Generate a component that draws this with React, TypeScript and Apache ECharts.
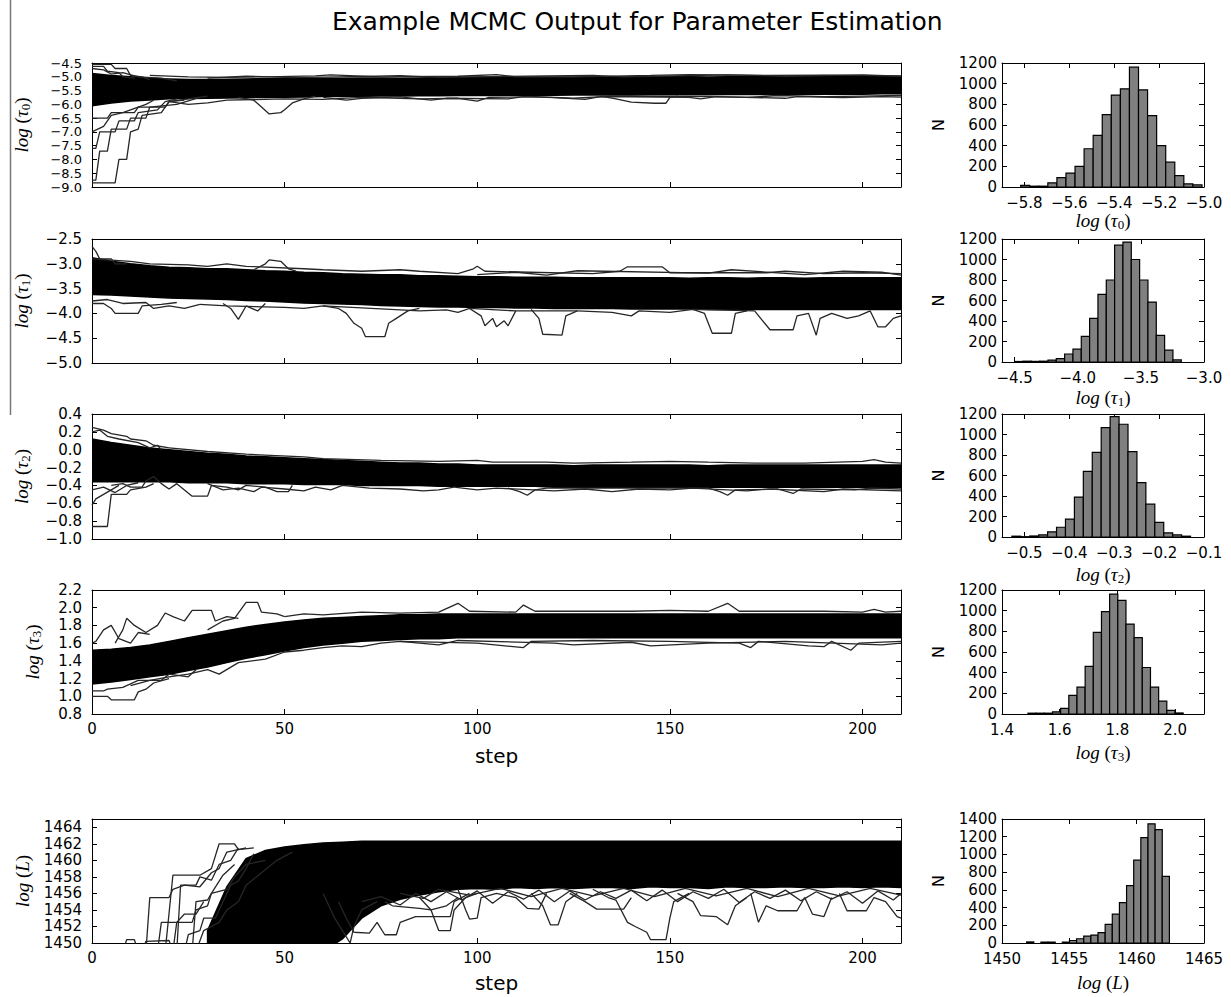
import React, { useEffect, useRef } from "react";
import * as echarts from "echarts";

type Pair = [number, number];

const TITLE = "Example MCMC Output for Parameter Estimation";
const STEP_MIN = 0;
const STEP_MAX = 210;
const STEP_TICKS = [0, 50, 100, 150, 200];
const BAND_STEPS = [0, 5, 10, 15, 20, 25, 30, 35, 40, 45, 50, 55, 60, 65, 70, 75, 80, 85, 90, 95, 100, 105, 110, 115, 120, 125, 130, 135, 140, 145, 150, 155, 160, 165, 170, 175, 180, 185, 190, 195, 200, 205, 210];

// ---------- tick labels ----------
const TAU0_TICKS = [-9.0, -8.5, -8.0, -7.5, -7.0, -6.5, -6.0, -5.5, -5.0, -4.5];
const TAU1_TICKS = [-5.0, -4.5, -4.0, -3.5, -3.0, -2.5];
const TAU2_TICKS = [-1.0, -0.8, -0.6, -0.4, -0.2, 0.0, 0.2, 0.4];
const TAU3_TICKS = [0.8, 1.0, 1.2, 1.4, 1.6, 1.8, 2.0, 2.2];
const LOGL_TICKS = [1450, 1452, 1454, 1456, 1458, 1460, 1462, 1464];
const N_TICKS = [0, 200, 400, 600, 800, 1000, 1200];
const N_TICKS_L = [0, 200, 400, 600, 800, 1000, 1200, 1400];
const H0_TICKS = [-5.8, -5.6, -5.4, -5.2, -5.0];
const H1_TICKS = [-4.5, -4.0, -3.5, -3.0];
const H2_TICKS = [-0.5, -0.4, -0.3, -0.2, -0.1];
const H3_TICKS = [1.4, 1.6, 1.8, 2.0];
const HL_TICKS = [1450, 1455, 1460, 1465];

// ---------- trace bands (dense walker core) ----------
const tau0Upper = [-4.88, -4.95, -5.0, -5.05, -5.08, -5.1, -5.1, -5.09, -5.08, -5.07, -5.06, -5.06, -5.05, -5.05, -5.04, -5.04, -5.05, -5.04, -5.03, -5.03, -5.02, -5.02, -5.03, -5.02, -5.02, -5.02, -5.01, -5.02, -5.01, -5.01, -5.0, -5.0, -5.01, -5.0, -5.0, -5.0, -5.0, -4.99, -5.0, -5.0, -4.99, -5.0, -5.0];
const tau0Lower = [-6.05, -5.95, -5.88, -5.84, -5.8, -5.79, -5.78, -5.77, -5.76, -5.75, -5.74, -5.73, -5.72, -5.72, -5.71, -5.7, -5.7, -5.69, -5.69, -5.68, -5.68, -5.68, -5.67, -5.67, -5.67, -5.66, -5.66, -5.66, -5.66, -5.65, -5.65, -5.65, -5.65, -5.64, -5.64, -5.64, -5.64, -5.63, -5.63, -5.63, -5.63, -5.62, -5.62];
const tau1Upper = [-2.88, -2.95, -3.0, -3.04, -3.07, -3.08, -3.1, -3.1, -3.12, -3.14, -3.15, -3.17, -3.18, -3.2, -3.21, -3.22, -3.22, -3.24, -3.24, -3.25, -3.26, -3.26, -3.27, -3.27, -3.27, -3.28, -3.28, -3.28, -3.28, -3.28, -3.28, -3.29, -3.28, -3.28, -3.29, -3.28, -3.28, -3.29, -3.28, -3.28, -3.28, -3.28, -3.28];
const tau1Lower = [-3.62, -3.63, -3.65, -3.67, -3.69, -3.7, -3.71, -3.72, -3.74, -3.75, -3.77, -3.79, -3.8, -3.81, -3.82, -3.84, -3.85, -3.86, -3.87, -3.87, -3.88, -3.88, -3.89, -3.89, -3.9, -3.9, -3.9, -3.9, -3.91, -3.91, -3.91, -3.91, -3.92, -3.92, -3.92, -3.92, -3.92, -3.92, -3.92, -3.92, -3.92, -3.92, -3.92];
const tau2Upper = [0.12, 0.08, 0.05, 0.02, 0.0, -0.02, -0.04, -0.05, -0.07, -0.08, -0.09, -0.1, -0.11, -0.12, -0.13, -0.14, -0.15, -0.15, -0.16, -0.16, -0.17, -0.17, -0.17, -0.17, -0.17, -0.18, -0.17, -0.17, -0.17, -0.17, -0.17, -0.17, -0.18, -0.17, -0.17, -0.17, -0.17, -0.17, -0.17, -0.17, -0.17, -0.17, -0.17];
const tau2Lower = [-0.36, -0.36, -0.36, -0.36, -0.36, -0.37, -0.37, -0.37, -0.38, -0.38, -0.38, -0.39, -0.39, -0.39, -0.4, -0.4, -0.4, -0.4, -0.41, -0.41, -0.41, -0.41, -0.41, -0.41, -0.42, -0.42, -0.42, -0.42, -0.42, -0.42, -0.42, -0.42, -0.42, -0.42, -0.42, -0.42, -0.42, -0.42, -0.42, -0.42, -0.42, -0.42, -0.42];
const tau3Upper = [1.52, 1.53, 1.55, 1.58, 1.62, 1.66, 1.7, 1.74, 1.78, 1.81, 1.84, 1.86, 1.88, 1.89, 1.9, 1.91, 1.92, 1.92, 1.93, 1.93, 1.93, 1.93, 1.93, 1.93, 1.93, 1.93, 1.93, 1.93, 1.93, 1.93, 1.93, 1.93, 1.93, 1.93, 1.93, 1.93, 1.93, 1.93, 1.93, 1.93, 1.93, 1.93, 1.93];
const tau3Lower = [1.14, 1.16, 1.19, 1.22, 1.25, 1.29, 1.33, 1.38, 1.43, 1.47, 1.51, 1.55, 1.58, 1.6, 1.62, 1.63, 1.64, 1.65, 1.65, 1.66, 1.66, 1.66, 1.66, 1.66, 1.66, 1.66, 1.66, 1.66, 1.66, 1.66, 1.66, 1.66, 1.66, 1.66, 1.66, 1.66, 1.66, 1.66, 1.66, 1.66, 1.66, 1.66, 1.66];
const LOGL_BAND_STEPS = [30, 35, 40, 45, 50, 55, 60, 65, 70, 75, 80, 85, 90, 95, 100, 105, 110, 115, 120, 125, 130, 135, 140, 145, 150, 155, 160, 165, 170, 175, 180, 185, 190, 195, 200, 205, 210];
const logLUpper = [1451.5, 1456.8, 1460.2, 1461.2, 1461.6, 1461.9, 1462.1, 1462.2, 1462.3, 1462.3, 1462.3, 1462.3, 1462.3, 1462.3, 1462.3, 1462.3, 1462.3, 1462.3, 1462.3, 1462.3, 1462.3, 1462.3, 1462.3, 1462.3, 1462.3, 1462.3, 1462.3, 1462.3, 1462.3, 1462.3, 1462.3, 1462.3, 1462.3, 1462.3, 1462.3, 1462.3, 1462.3];
const logLLower = [1449, 1449, 1449, 1449, 1449, 1449, 1449, 1450.5, 1453.0, 1454.5, 1455.3, 1455.8, 1456.2, 1456.5, 1456.6, 1456.5, 1456.7, 1456.6, 1456.7, 1456.6, 1456.7, 1456.7, 1456.6, 1456.8, 1456.7, 1456.7, 1456.6, 1456.8, 1456.7, 1456.7, 1456.8, 1456.7, 1456.7, 1456.8, 1456.7, 1456.8, 1456.7];

// ---------- individual walkers ----------
const tau0Walkers: Pair[][] = [
  [[0, -8.85], [6, -8.85], [7, -8.0], [9, -8.0], [10, -7.0], [12, -6.9], [13, -6.4], [18, -6.3], [20, -5.9], [25, -5.8], [30, -5.7]],
  [[0, -8.75], [1, -8.75], [2, -7.7], [4, -7.7], [5, -6.9], [9, -6.9], [10, -6.5], [14, -6.5], [15, -6.1], [22, -6.0], [28, -5.75]],
  [[0, -7.6], [1, -7.6], [2, -7.0], [6, -7.0], [7, -6.6], [11, -6.6], [12, -6.3], [17, -6.2], [19, -5.9], [22, -5.8]],
  [[0, -7.0], [3, -6.8], [5, -6.4], [8, -6.3], [10, -6.2], [14, -6.0], [16, -5.85]],
  [[0, -6.5], [4, -6.5], [5, -6.3], [11, -6.3], [12, -6.1], [19, -6.1], [20, -5.9], [24, -5.85]],
  [[0, -4.55], [5, -4.55], [6, -4.7], [9, -4.7], [10, -4.95], [13, -5.0], [15, -5.1]],
  [[0, -4.62], [3, -4.62], [4, -4.8], [7, -4.85], [8, -5.0], [11, -5.05]],
  [[0, -4.7], [3, -4.75], [5, -4.9], [8, -4.85], [12, -5.0], [18, -5.05], [22, -5.15]],
  [[38, -5.75], [42, -5.85], [44, -6.1], [46, -6.35], [49, -6.3], [50, -6.2], [52, -5.95], [55, -5.8], [58, -5.7]],
  [[132, -5.7], [136, -5.8], [140, -5.92], [146, -5.96], [149, -5.96], [150, -5.75], [152, -5.7]],
  [[20, -5.9], [25, -6.0], [30, -5.95], [35, -5.85], [50, -5.8], [60, -5.82], [70, -5.75], [85, -5.8], [95, -5.78], [100, -5.88], [103, -5.75], [115, -5.72], [125, -5.78], [135, -5.7], [160, -5.72], [170, -5.75], [178, -5.68], [190, -5.72], [200, -5.7], [210, -5.68]],
  [[60, -5.75], [66, -5.85], [70, -5.78], [80, -5.73], [88, -5.85], [92, -5.78], [108, -5.8], [112, -5.72], [120, -5.76], [128, -5.82], [132, -5.72], [155, -5.75], [158, -5.8], [162, -5.72], [180, -5.78], [183, -5.72], [195, -5.76], [205, -5.72], [210, -5.74]],
  [[15, -4.95], [25, -5.0], [35, -5.02], [45, -5.0], [58, -4.97], [62, -4.93], [75, -5.0], [95, -4.98], [105, -4.92], [110, -5.0], [125, -5.0], [145, -4.95], [155, -4.92], [175, -4.95], [190, -4.94], [210, -4.97]],
  [[30, -5.05], [40, -4.98], [52, -5.03], [64, -5.0], [80, -4.96], [90, -5.02], [118, -4.97], [130, -4.95], [138, -5.0], [165, -4.93], [180, -4.98], [200, -4.93], [210, -4.98]],
];
const tau1Walkers: Pair[][] = [
  [[0, -2.65], [1, -2.75], [2, -2.9], [5, -2.9], [6, -3.0], [9, -3.0]],
  [[0, -3.8], [3, -3.8], [5, -3.9], [6, -4.0], [12, -4.0], [13, -3.85], [18, -3.82], [22, -3.78]],
  [[0, -3.75], [4, -3.72], [8, -3.8], [14, -3.78], [16, -3.9], [20, -3.85], [24, -3.9], [28, -3.82]],
  [[42, -3.12], [45, -3.0], [46, -2.92], [49, -2.95], [51, -3.1], [53, -3.15]],
  [[34, -3.8], [36, -3.9], [38, -4.12], [40, -3.85], [43, -3.95], [45, -3.8]],
  [[60, -3.85], [64, -3.9], [66, -4.0], [68, -4.2], [70, -4.3], [71, -4.47], [76, -4.47], [77, -4.2], [79, -4.1], [82, -3.95], [85, -3.9]],
  [[98, -3.9], [101, -4.05], [102, -4.25], [104, -4.1], [105, -4.27], [107, -4.15], [108, -4.25], [110, -3.95]],
  [[114, -3.92], [116, -4.1], [117, -4.42], [122, -4.44], [123, -4.05], [126, -3.95]],
  [[156, -3.92], [159, -4.0], [161, -4.4], [166, -4.4], [167, -4.0], [170, -3.95]],
  [[172, -3.95], [176, -4.33], [182, -4.33], [183, -4.05], [186, -4.0], [188, -4.44], [189, -4.1], [192, -4.0], [196, -4.1], [199, -4.05], [202, -3.95], [204, -4.27], [206, -4.27], [208, -4.1], [210, -4.05]],
  [[95, -3.2], [99, -3.1], [100, -3.05], [102, -3.15], [130, -3.2], [137, -3.15], [139, -3.06], [148, -3.06], [150, -3.18], [175, -3.18], [180, -3.15], [190, -3.2], [200, -3.18], [210, -3.2]],
  [[0, -2.9], [10, -2.95], [15, -3.0], [25, -3.02], [30, -3.05], [35, -3.0], [40, -3.05], [55, -3.1], [60, -3.12], [70, -3.15], [80, -3.12], [85, -3.15], [95, -3.2]],
  [[28, -3.82], [35, -3.85], [50, -3.88], [55, -3.9], [60, -3.85], [85, -3.95], [92, -3.93], [95, -3.98], [98, -3.9], [110, -3.95], [126, -3.95], [135, -3.98], [140, -4.05], [142, -3.95], [150, -3.98], [156, -3.92], [172, -3.95]],
  [[100, -3.22], [110, -3.17], [118, -3.23], [126, -3.14], [160, -3.19], [166, -3.12], [185, -3.22], [195, -3.15], [205, -3.17], [210, -3.23]],
];
const tau2Walkers: Pair[][] = [
  [[0, -0.86], [4, -0.86], [5, -0.5], [9, -0.5], [10, -0.45], [14, -0.42], [16, -0.38]],
  [[0, -0.62], [1, -0.55], [3, -0.5], [5, -0.45], [7, -0.4]],
  [[0, -0.45], [3, -0.42], [6, -0.48], [9, -0.4], [12, -0.37]],
  [[0, 0.25], [3, 0.22], [5, 0.18], [9, 0.15], [10, 0.12], [14, 0.1], [16, 0.05], [20, 0.02]],
  [[0, 0.2], [2, 0.22], [4, 0.15], [7, 0.12], [12, 0.08], [15, 0.02], [17, 0.05], [18, 0.0]],
  [[5, -0.4], [8, -0.38], [10, -0.42], [13, -0.42], [14, -0.35], [16, -0.3], [18, -0.38], [20, -0.44], [22, -0.38], [26, -0.52], [30, -0.52], [31, -0.4], [35, -0.42], [38, -0.45], [40, -0.4], [45, -0.42], [48, -0.47], [51, -0.47], [52, -0.4]],
  [[30, -0.38], [34, -0.45], [38, -0.43], [42, -0.47], [44, -0.42], [50, -0.44], [55, -0.46], [58, -0.42], [62, -0.45], [65, -0.4], [72, -0.43], [80, -0.44], [86, -0.46], [90, -0.45], [94, -0.42]],
  [[94, -0.42], [100, -0.45], [105, -0.43], [120, -0.46], [128, -0.44], [135, -0.47], [142, -0.44], [150, -0.45], [156, -0.43], [170, -0.46], [176, -0.44], [190, -0.47], [195, -0.44], [210, -0.46]],
  [[108, -0.43], [111, -0.47], [113, -0.51], [115, -0.45], [118, -0.43], [160, -0.43], [163, -0.47], [165, -0.51], [167, -0.45], [178, -0.44], [182, -0.49], [184, -0.44], [198, -0.45], [202, -0.43], [210, -0.44]],
  [[20, 0.02], [30, -0.02], [40, -0.05], [55, -0.08], [60, -0.1], [75, -0.12], [90, -0.13], [100, -0.12], [104, -0.14], [118, -0.14], [125, -0.15], [140, -0.14], [150, -0.13], [160, -0.14], [172, -0.15], [185, -0.15], [200, -0.13], [203, -0.11], [206, -0.14], [210, -0.15]],
];
const tau3Walkers: Pair[][] = [
  [[0, 1.0], [4, 1.0], [5, 0.96], [11, 0.96], [12, 1.05], [14, 1.08], [16, 1.15], [20, 1.2]],
  [[0, 1.06], [3, 1.06], [4, 1.08], [8, 1.1], [12, 1.18], [18, 1.18], [20, 1.25], [25, 1.22], [27, 1.3]],
  [[0, 1.6], [1, 1.62], [3, 1.75], [5, 1.8], [7, 1.65], [10, 1.6], [12, 1.72], [15, 1.7]],
  [[6, 1.6], [8, 1.75], [9, 1.88], [11, 1.8], [14, 1.72], [17, 1.8], [19, 1.94], [21, 1.9], [24, 1.85], [26, 1.97], [31, 1.97], [32, 1.85], [35, 1.9], [38, 1.88]],
  [[30, 1.75], [34, 1.85], [37, 1.88], [40, 2.06], [43, 2.06], [44, 1.95], [48, 1.93], [50, 1.9]],
  [[10, 1.12], [15, 1.18], [20, 1.22], [25, 1.25], [30, 1.3], [33, 1.25], [38, 1.38], [45, 1.42], [50, 1.5], [55, 1.52], [60, 1.55], [65, 1.57], [70, 1.56], [75, 1.6], [80, 1.62], [100, 1.6], [112, 1.55], [114, 1.62], [130, 1.63], [150, 1.62], [168, 1.6], [171, 1.55], [173, 1.62], [186, 1.57], [190, 1.56], [192, 1.62], [197, 1.52], [199, 1.6], [210, 1.62]],
  [[80, 1.62], [90, 1.58], [95, 1.63], [120, 1.6], [125, 1.58], [140, 1.61], [145, 1.57], [160, 1.6], [180, 1.62], [205, 1.58], [210, 1.6]],
  [[50, 1.9], [55, 1.93], [60, 1.92], [70, 1.95], [80, 1.94], [90, 1.95], [95, 2.05], [98, 1.96], [110, 1.95], [112, 2.03], [115, 1.96], [140, 1.96], [150, 1.97], [160, 1.96], [165, 2.05], [168, 1.96], [190, 1.96], [200, 1.95], [203, 1.98], [206, 1.95], [210, 1.96]],
];
const logLWalkers: Pair[][] = [
  [[8, 1449], [9, 1450.4], [11, 1450.4], [12, 1449]],
  [[13, 1449], [14, 1450.2], [20, 1450.3], [21, 1449]],
  [[14, 1449], [15, 1455.5], [20, 1455.5], [21, 1456.5], [24, 1457], [28, 1456.8], [31, 1458.5], [33, 1459], [35, 1461], [40, 1461.5]],
  [[19, 1449], [21, 1458.2], [28, 1458.2], [31, 1459], [33, 1462], [37, 1462], [38, 1461.3], [42, 1461.5]],
  [[21, 1449], [22, 1452.5], [26, 1452.5], [27, 1454], [30, 1454.5], [31, 1456], [35, 1456.5], [37, 1458], [40, 1459.5], [45, 1460]],
  [[24, 1449], [25, 1451], [28, 1451.5], [29, 1453], [32, 1453], [34, 1455], [36, 1457], [38, 1457.5], [40, 1459], [42, 1460.8]],
  [[27, 1449], [29, 1451.5], [31, 1452], [33, 1452.5], [35, 1454], [38, 1455], [40, 1457], [44, 1458.5], [48, 1460], [52, 1461]],
  [[22, 1449], [23, 1457], [27, 1457], [28, 1458], [31, 1457.6], [33, 1459.5], [36, 1460], [38, 1461.5]],
  [[26, 1449], [27, 1455], [30, 1455.2], [31, 1456], [34, 1458.2], [37, 1459.5]],
  [[17, 1449], [18, 1452.5], [22, 1452.5], [24, 1453.5], [27, 1453.5], [29, 1455]],
  [[60, 1456], [63, 1453], [65, 1451.5], [67, 1450], [68, 1452], [70, 1454], [74, 1455]],
  [[64, 1455], [66, 1453], [68, 1451.3], [72, 1451.2], [74, 1452.5], [76, 1451], [79, 1451], [80, 1452.5], [84, 1453.2], [93, 1453.2], [94, 1455], [98, 1456]],
  [[76, 1455], [78, 1454.5], [85, 1454.2], [88, 1454], [92, 1454.5], [95, 1455.5]],
  [[85, 1455.5], [88, 1454], [90, 1451.5], [93, 1451.5], [94, 1454], [97, 1455.5], [100, 1456]],
  [[95, 1456.5], [97, 1454], [98, 1452.9], [100, 1453], [101, 1455.5], [105, 1456], [110, 1455.5], [113, 1454.2], [116, 1454.1], [118, 1456]],
  [[114, 1456], [117, 1454.5], [119, 1452.2], [121, 1452.2], [123, 1455], [126, 1456]],
  [[124, 1456], [128, 1455], [131, 1454.1], [138, 1454.1], [140, 1455.5]],
  [[130, 1456.5], [134, 1455.5], [136, 1455.2], [139, 1452.5], [141, 1452], [144, 1451.3], [145, 1450.4], [149, 1450.4], [150, 1453], [151, 1455], [155, 1456]],
  [[152, 1456], [156, 1455], [158, 1453.3], [162, 1453.2], [165, 1452.2], [167, 1454.5], [170, 1455.5]],
  [[171, 1456], [173, 1452.5], [175, 1454.5], [178, 1453.9], [183, 1453.9], [185, 1455.5], [187, 1453.5], [190, 1453.2], [192, 1455.5]],
  [[194, 1456], [196, 1453.9], [201, 1453.9], [203, 1455.5], [206, 1455], [209, 1453.2], [210, 1453]],
  [[70, 1455], [75, 1455.6], [80, 1454.6], [84, 1456], [88, 1455], [92, 1456.2], [96, 1455.2], [100, 1456.3], [104, 1454.8], [108, 1456.2], [112, 1455.3], [116, 1456.4], [120, 1455], [124, 1456.3], [128, 1455.2], [132, 1456.2], [136, 1455.4], [140, 1456.4], [144, 1455.1], [148, 1456.4], [152, 1455], [156, 1456.2], [160, 1455.4], [164, 1456.5], [168, 1454.9], [172, 1456.2], [176, 1455.4], [180, 1456.4], [184, 1455.1], [188, 1456.2], [192, 1455.3], [196, 1456.2], [200, 1454.8], [204, 1456.3], [208, 1455.2], [210, 1456]],
  [[80, 1456], [86, 1455.4], [90, 1456.5], [98, 1455.8], [106, 1456.6], [114, 1455.6], [122, 1456.6], [130, 1455.7], [138, 1456.6], [146, 1455.6], [154, 1456.6], [162, 1455.7], [170, 1456.6], [178, 1455.6], [186, 1456.6], [194, 1455.7], [202, 1456.6], [210, 1455.8]],
];

// ---------- histograms ----------
const hist0Start = -5.817, hist0Width = 0.0404;
const hist0Counts = [15, 8, 8, 40, 90, 135, 200, 370, 500, 700, 890, 950, 1160, 940, 690, 400, 240, 110, 30, 20];
const hist1Start = -4.5, hist1Width = 0.066;
const hist1Counts = [5, 8, 6, 8, 18, 32, 78, 125, 250, 425, 660, 800, 1140, 1170, 1000, 800, 585, 260, 115, 20];
const hist2Start = -0.528, hist2Width = 0.0199;
const hist2Counts = [8, 3, 10, 20, 50, 95, 175, 390, 640, 825, 1067, 1175, 1100, 833, 530, 320, 143, 40, 20, 8];
const hist3Start = 1.49, hist3Width = 0.0283;
const hist3Counts = [8, 8, 8, 20, 55, 180, 260, 460, 790, 990, 1160, 1100, 870, 740, 450, 260, 125, 35, 10];
const histLStart = 1451.83, histLWidth = 0.53;
const histLCounts = [12, 0, 10, 10, 0, 10, 28, 48, 78, 90, 118, 211, 325, 455, 648, 935, 1190, 1345, 1280, 752];

const FONT = "DejaVu Sans";
const MATH = "Liberation Serif";
const WALKER_COLOR = "#262626";

const fmt1 = (v: number) => {
  if (Math.abs(v) < 1e-9) return "0.0";
  return (v < 0 ? "\u2212" : "") + Math.abs(v).toFixed(1);
};
const fmt0 = (v: number) => (v < 0 ? "\u2212" : "") + Math.abs(Math.round(v)).toFixed(0);

const mathRich = {
  i: { fontFamily: MATH, fontStyle: "italic", fontSize: 19, color: "#000" },
  n: { fontFamily: MATH, fontSize: 19, color: "#000" },
  s: { fontFamily: MATH, fontSize: 13, color: "#000", padding: [9, 0, 0, 0] },
};
const tauName = (k: string) => `{i|log}{n| (}{i|τ}{s|${k}}{n|)}`;
const LName = `{i|log}{n| (}{i|L}{n|)}`;

function buildOption() {
  const grid: any[] = [];
  const xAxis: any[] = [];
  const yAxis: any[] = [];
  const series: any[] = [];

  const axis = (spec: any, gi: number, pos: string, main: boolean) => ({
    type: "value",
    gridIndex: gi,
    position: pos,
    min: spec.min,
    max: spec.max,
    axisLine: { show: true, onZero: false, lineStyle: { color: "#000", width: 1 } },
    axisTick: { show: true, inside: true, length: 5, customValues: spec.ticks, lineStyle: { color: "#000", width: 1 } },
    axisLabel: {
      show: main && !!spec.labels,
      customValues: spec.ticks,
      formatter: spec.fmt,
      margin: spec.margin ?? 6,
      fontFamily: FONT,
      fontSize: spec.fontSize ?? 15,
      lineHeight: spec.lineHeight,
      color: "#000",
      showMinLabel: true,
      showMaxLabel: true,
      hideOverlap: false,
    },
    splitLine: { show: false },
    name: main ? spec.name : undefined,
    nameLocation: "middle",
    nameGap: spec.nameGap,
    nameTextStyle: spec.nameStyle,
    silent: true,
  });

  const panel = (rect: number[], xs: any, ys: any) => {
    const gi = grid.length;
    grid.push({ left: rect[0], top: rect[1], width: rect[2], height: rect[3] });
    const xi = xAxis.length;
    const yi = yAxis.length;
    xAxis.push(axis(xs, gi, "bottom", true), axis(xs, gi, "top", false));
    yAxis.push(axis(ys, gi, "left", true), axis(ys, gi, "right", false));
    return { xi, yi };
  };

  const band = (ax: any, steps: number[], upper: number[], lower: number[]) => {
    series.push({
      type: "custom",
      xAxisIndex: ax.xi,
      yAxisIndex: ax.yi,
      clip: true,
      silent: true,
      z: 2,
      data: [[steps[0], upper[0]]],
      renderItem: (_p: any, api: any) => {
        const pts: number[][] = [];
        for (let i = 0; i < steps.length; i++) pts.push(api.coord([steps[i], upper[i]]));
        for (let i = steps.length - 1; i >= 0; i--) pts.push(api.coord([steps[i], lower[i]]));
        return { type: "polygon", shape: { points: pts }, style: { fill: "#000", stroke: "#000", lineWidth: 1.5 } };
      },
    });
  };

  const walkers = (ax: any, list: Pair[][]) => {
    list.forEach((w) => {
      series.push({
        type: "line",
        xAxisIndex: ax.xi,
        yAxisIndex: ax.yi,
        data: w,
        symbol: "none",
        showSymbol: false,
        silent: true,
        clip: true,
        z: 3,
        lineStyle: { color: WALKER_COLOR, width: 1.3 },
      });
    });
  };

  const hist = (ax: any, start: number, width: number, counts: number[]) => {
    series.push({
      type: "custom",
      xAxisIndex: ax.xi,
      yAxisIndex: ax.yi,
      silent: true,
      clip: true,
      encode: { x: [0, 1], y: 2 },
      data: counts.map((c, i) => [start + i * width, start + (i + 1) * width, c]),
      renderItem: (_p: any, api: any) => {
        const c = api.value(2);
        if (!c) return null;
        const p0 = api.coord([api.value(0), 0]);
        const p1 = api.coord([api.value(1), c]);
        return {
          type: "rect",
          shape: { x: p0[0], y: p1[1], width: p1[0] - p0[0], height: p0[1] - p1[1] },
          style: { fill: "#808080", stroke: "#000", lineWidth: 1.2 },
        };
      },
    });
  };

  const mathStyle = { rich: mathRich, fontFamily: MATH, fontSize: 19, color: "#000" };
  const stepStyle = { fontFamily: FONT, fontSize: 20, color: "#000" };
  const nStyle = { fontFamily: FONT, fontSize: 16, color: "#000" };

  const stepAxis = (labels: boolean) => ({
    min: STEP_MIN, max: STEP_MAX, ticks: STEP_TICKS, labels, fmt: fmt0, margin: 7,
    name: labels ? "step" : undefined, nameGap: 32, nameStyle: stepStyle,
  });
  const traceY = (min: number, max: number, ticks: number[], fmt: any, name: string, gap: number, fontSize = 15, lineHeight?: number) => ({
    min, max, ticks, labels: true, fmt, margin: 10, name, nameGap: gap, nameStyle: mathStyle, fontSize, lineHeight,
  });
  const histX = (min: number, max: number, ticks: number[], fmt: any, name: string, gap: number) => ({
    min, max, ticks, labels: true, fmt, margin: 8, name, nameGap: gap, nameStyle: mathStyle,
  });
  const histY = (ticks: number[]) => ({
    min: 0, max: ticks[ticks.length - 1], ticks, labels: true, fmt: fmt0, margin: 5, name: "N", nameGap: 56, nameStyle: nStyle,
  });

  const TL = 92, TW = 809, HL = 1002, HW = 202;

  // trace panels
  const p0 = panel([TL, 63, TW, 124], stepAxis(false), traceY(-9.0, -4.5, TAU0_TICKS, fmt1, tauName("0"), 60, 13, 12));
  band(p0, BAND_STEPS, tau0Upper, tau0Lower);
  walkers(p0, tau0Walkers);
  const p1 = panel([TL, 239, TW, 124], stepAxis(false), traceY(-5.0, -2.5, TAU1_TICKS, fmt1, tauName("1"), 60));
  band(p1, BAND_STEPS, tau1Upper, tau1Lower);
  walkers(p1, tau1Walkers);
  const p2 = panel([TL, 414, TW, 125], stepAxis(false), traceY(-1.0, 0.4, TAU2_TICKS, fmt1, tauName("2"), 60));
  band(p2, BAND_STEPS, tau2Upper, tau2Lower);
  walkers(p2, tau2Walkers);
  const p3 = panel([TL, 590, TW, 124], stepAxis(true), traceY(0.8, 2.2, TAU3_TICKS, fmt1, tauName("3"), 49));
  band(p3, BAND_STEPS, tau3Upper, tau3Lower);
  walkers(p3, tau3Walkers);
  const pL = panel([TL, 819, TW, 124], { ...stepAxis(true), nameGap: 30 }, traceY(1450, 1465, LOGL_TICKS, fmt0, LName, 60));
  band(pL, LOGL_BAND_STEPS, logLUpper, logLLower);
  walkers(pL, logLWalkers);

  // histograms
  const h0 = panel([HL, 63, HW, 124], histX(-5.9, -5.0, H0_TICKS, fmt1, tauName("0"), 17), histY(N_TICKS));
  hist(h0, hist0Start, hist0Width, hist0Counts);
  const h1 = panel([HL, 239, HW, 123], histX(-4.6, -3.0, H1_TICKS, fmt1, tauName("1"), 24), histY(N_TICKS));
  hist(h1, hist1Start, hist1Width, hist1Counts);
  const h2 = panel([HL, 414, HW, 123], histX(-0.55, -0.1, H2_TICKS, fmt1, tauName("2"), 26), histY(N_TICKS));
  hist(h2, hist2Start, hist2Width, hist2Counts);
  const h3 = panel([HL, 590, HW, 124], histX(1.4, 2.1, H3_TICKS, fmt1, tauName("3"), 27), histY(N_TICKS));
  hist(h3, hist3Start, hist3Width, hist3Counts);
  const hL = panel([HL, 819, HW, 124], histX(1450, 1465, HL_TICKS, fmt0, LName, 30), histY(N_TICKS_L));
  hist(hL, histLStart, histLWidth, histLCounts);

  return {
    animation: false,
    backgroundColor: "#fff",
    title: {
      text: TITLE,
      left: 327,
      top: 4,
      textStyle: { fontFamily: FONT, fontSize: 25, fontWeight: "normal", color: "#000" },
    },
    graphic: [
      { type: "line", shape: { x1: 10.5, y1: 0, x2: 10.5, y2: 415 }, style: { stroke: "#777", lineWidth: 1.5 } },
    ],
    grid,
    xAxis,
    yAxis,
    series,
  };
}

export default function App() {
  const ref = useRef<HTMLDivElement>(null);
  useEffect(() => {
    if (!ref.current) return;
    const chart = echarts.init(ref.current, undefined, { renderer: "svg" });
    chart.setOption(buildOption() as any);
    return () => chart.dispose();
  }, []);
  return (
    <div
      ref={ref}
      style={{ position: "absolute", left: 0, top: 0, width: 1231, height: 997, background: "#fff" }}
    />
  );
}
